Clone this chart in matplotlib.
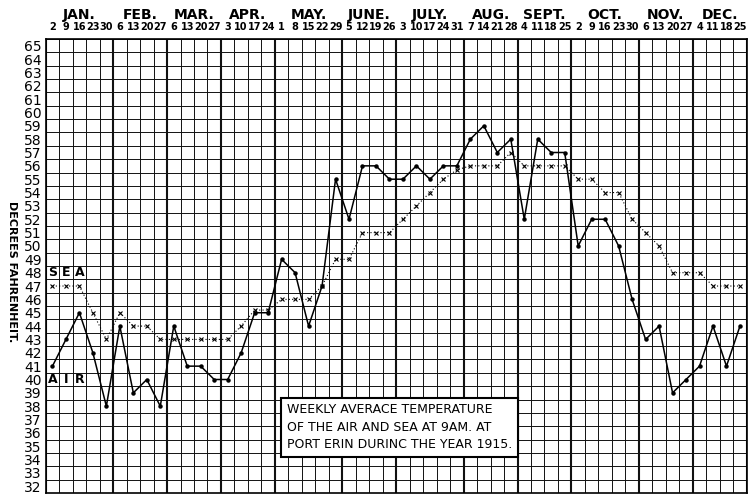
import numpy as np
import matplotlib
matplotlib.use("Agg")
import matplotlib.pyplot as plt
from matplotlib.transforms import blended_transform_factory

# month names and the saturday of each week (1915)
months = ["JAN.", "FEB.", "MAR.", "APR.", "MAY.", "JUNE.", "JULY.", "AUG.",
          "SEPT.", "OCT.", "NOV.", "DEC."]
week_days = [[2, 9, 16, 23, 30], [6, 13, 20, 27], [6, 13, 20, 27], [3, 10, 17, 24],
             [1, 8, 15, 22, 29], [5, 12, 19, 26], [3, 10, 17, 24, 31], [7, 14, 21, 28],
             [4, 11, 18, 25], [2, 9, 16, 23, 30], [6, 13, 20, 27], [4, 11, 18, 25]]

air = [41, 43, 45, 42, 38, 44, 39, 40, 38, 44, 41, 41, 40, 40, 42, 45,
       45, 49, 48, 44, 47, 55, 52, 56, 56, 55, 55, 56, 55, 56, 56, 58,
       59, 57, 58, 52, 58, 57, 57, 50, 52, 52, 50, 46, 43, 44, 39, 40,
       41, 44, 41, 44]
sea = [47, 47, 47, 45, 43, 45, 44, 44, 43, 43, 43, 43, 43, 43, 44, 45.2,
       45.2, 46, 46, 46, 47, 49, 49, 51, 51, 51, 52, 53, 54, 55, 55.7, 56,
       56, 56, 57, 56, 56, 56, 56, 55, 55, 54, 54, 52, 51, 50, 48, 48,
       48, 47, 47, 47]

y_min, y_max = 32, 65
narrow = ["Liberation Sans Narrow", "DejaVu Sans"]

fig = plt.figure(figsize=(7.51, 4.95), dpi=100)
ax = fig.add_axes([45.7 / 751, 2 / 495, 701 / 751, 454 / 495])
ax.set_xlim(0, 52)
ax.set_ylim(y_min - 0.5, y_max + 0.5)

# graph paper
n_weeks = sum(len(w) for w in week_days)
bounds = np.cumsum([len(w) for w in week_days])
for i in range(n_weeks + 1):
    lw = 1.5 if (i in bounds or i == 0) else 0.7
    ax.axvline(i, color="#111111", lw=lw, zorder=1)
for v in range(y_min, y_max + 2):
    ax.axhline(v - 0.5, color="#111111", lw=0.7, zorder=1)

x = np.arange(n_weeks) + 0.5
ax.plot(x, sea, color="black", lw=0.8, ls=(0, (1, 2)), marker="x",
        ms=3, mew=0.8, zorder=3)
ax.plot(x, air, color="black", lw=1.1, marker="o", ms=2.2, zorder=4)

ax.set_xticks([])
ax.set_yticks(range(y_min, y_max + 1))
ax.set_yticklabels([str(v) for v in range(y_min, y_max + 1)],
                   fontsize=10, family=narrow)
ax.tick_params(axis="y", length=0, pad=3)
for s in ax.spines.values():
    s.set_linewidth(1.2)

# header: months and week numbers
tr = blended_transform_factory(ax.transData, fig.transFigure)
start = 0
for name, days in zip(months, week_days):
    ax.text(start + len(days) / 2, 1 - 15 / 495, name, transform=tr,
            ha="center", va="center", fontsize=10, fontweight="bold",
            family=narrow)
    for k, d in enumerate(days):
        ax.text(start + k + 0.5, 1 - 27 / 495, str(d), transform=tr,
                ha="center", va="center", fontsize=7, fontweight="bold",
                family=narrow)
    start += len(days)

fig.text(12 / 751, 1 - 272 / 495, "DECREES FAHRENHEIT.", rotation=270,
         ha="center", va="center", fontsize=8, fontweight="bold")

# series labels, one letter per cell
for k, ch in enumerate("SEA"):
    ax.text(k + 0.5, 48, ch, ha="center", va="center", fontsize=9,
            fontweight="bold", zorder=5)
for k, ch in enumerate("AIR"):
    ax.text(k + 0.5, 40, ch, ha="center", va="center", fontsize=9,
            fontweight="bold", zorder=5)

# title box
ax.text(0.344, 0.145,
        "WEEKLY AVERACE TEMPERATURE\nOF THE AIR AND SEA AT 9AM. AT\nPORT ERIN DURINC THE YEAR 1915.",
        transform=ax.transAxes, ha="left", va="center", fontsize=9,
        family=narrow, linespacing=1.45,
        bbox=dict(boxstyle="square,pad=0.45", fc="white", ec="black", lw=1.5),
        zorder=6)

fig.savefig("out.png", dpi=100, facecolor="white")
